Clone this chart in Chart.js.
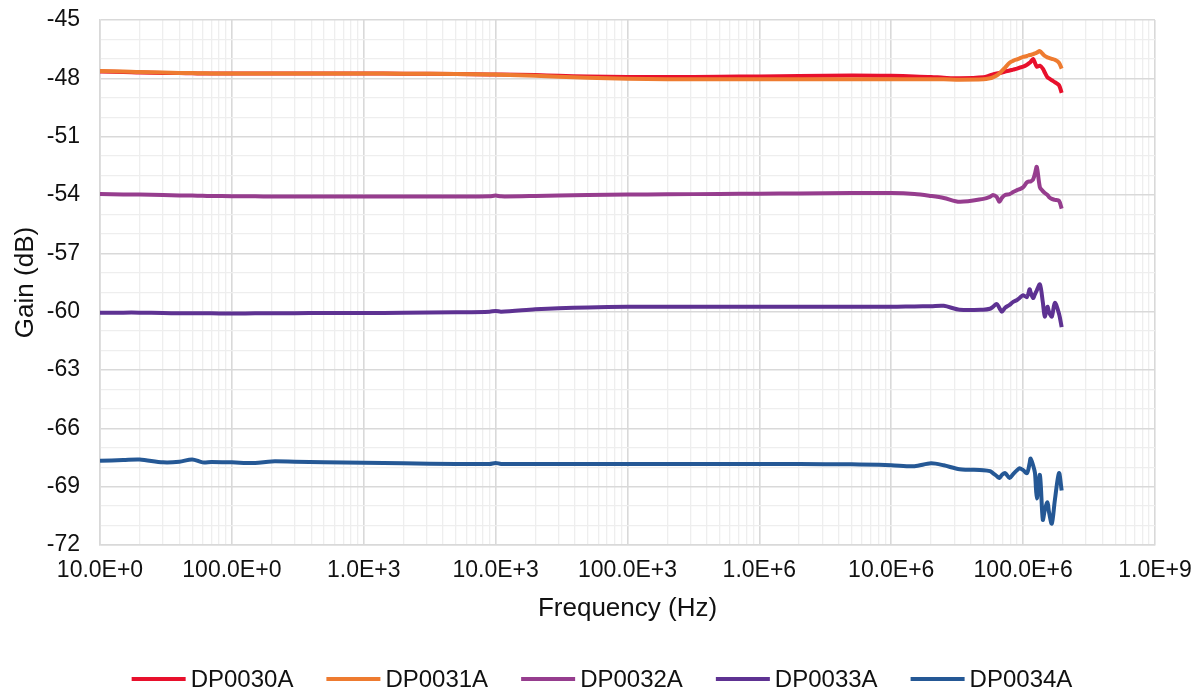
<!DOCTYPE html>
<html>
<head>
<meta charset="utf-8">
<script src="https://cdn.jsdelivr.net/npm/chart.js@4"></script>
<style>
  html, body { margin: 0; padding: 0; background: #ffffff; }
  #wrap { width: 1200px; height: 690px; }
</style>
</head>
<body>
<div id="wrap"><canvas id="c" width="1200" height="690"></canvas></div>
<script>
// ---------------- data ----------------
const freqHz = [
  10, 15, 20, 30, 40, 50, 60, 70, 100, 150,
  200, 300, 500, 1e3, 2e3, 5e3, 9e3, 1e4, 1.1e4, 2e4,
  3e4, 5e4, 1e5, 2e5, 5e5, 1e6, 2e6, 5e6, 1e7, 1.5e7,
  2e7, 2.5e7, 3.3e7, 5e7, 5.6e7, 5.9e7, 6.3e7, 6.6e7, 6.9e7, 7.3e7,
  7.9e7, 8.4e7, 9e7, 9.4e7, 1e8, 1.07e8, 1.12e8, 1.14e8, 1.19e8, 1.23e8,
  1.27e8, 1.34e8, 1.41e8, 1.46e8, 1.53e8, 1.57e8, 1.65e8, 1.74e8, 1.87e8, 1.96e8
];
const gainDP0030A = [
  -47.65,-47.67,-47.70,-47.72,-47.73,-47.74,-47.75,-47.75,-47.75,-47.75,
  -47.75,-47.75,-47.75,-47.75,-47.76,-47.78,-47.80,-47.80,-47.80,-47.83,
  -47.87,-47.90,-47.93,-47.93,-47.92,-47.90,-47.88,-47.85,-47.87,-47.90,
  -47.93,-47.97,-48.00,-47.95,-47.85,-47.80,-47.75,-47.72,-47.70,-47.65,
  -47.60,-47.55,-47.50,-47.45,-47.40,-47.30,-47.20,-47.15,-47.00,-47.20,
  -47.40,-47.35,-47.50,-47.70,-47.95,-48.00,-48.10,-48.20,-48.35,-48.75
];
const gainDP0031A = [
  -47.62,-47.65,-47.68,-47.70,-47.72,-47.73,-47.74,-47.75,-47.75,-47.75,
  -47.75,-47.75,-47.75,-47.75,-47.76,-47.78,-47.80,-47.80,-47.82,-47.87,
  -47.92,-47.97,-48.02,-48.05,-48.05,-48.05,-48.05,-48.05,-48.05,-48.05,
  -48.05,-48.05,-48.07,-48.05,-48.00,-47.95,-47.85,-47.75,-47.62,-47.45,
  -47.20,-47.10,-47.02,-46.97,-46.90,-46.85,-46.80,-46.80,-46.75,-46.72,
  -46.68,-46.60,-46.75,-46.85,-46.92,-46.95,-47.00,-47.05,-47.20,-47.50
];
const gainDP0032A = [
  -53.95,-53.97,-53.98,-54.00,-54.02,-54.03,-54.04,-54.05,-54.06,-54.07,
  -54.08,-54.08,-54.08,-54.08,-54.08,-54.08,-54.07,-54.03,-54.07,-54.05,
  -54.02,-54.00,-53.98,-53.96,-53.95,-53.93,-53.92,-53.90,-53.90,-53.95,
  -54.05,-54.15,-54.35,-54.20,-54.10,-54.00,-54.10,-54.35,-54.15,-54.00,
  -53.95,-53.85,-53.75,-53.70,-53.60,-53.35,-53.30,-53.30,-53.20,-52.90,
  -52.55,-53.60,-53.80,-53.90,-54.00,-54.10,-54.20,-54.25,-54.30,-54.70
];
const gainDP0033A = [
  -60.05,-60.05,-60.05,-60.07,-60.08,-60.08,-60.08,-60.08,-60.10,-60.08,
  -60.08,-60.08,-60.07,-60.07,-60.06,-60.03,-60.00,-59.96,-60.00,-59.88,
  -59.82,-59.78,-59.75,-59.75,-59.75,-59.75,-59.75,-59.75,-59.75,-59.73,
  -59.72,-59.70,-59.90,-59.90,-59.85,-59.75,-59.60,-59.80,-60.00,-59.80,
  -59.65,-59.50,-59.40,-59.30,-59.15,-59.25,-58.85,-59.00,-59.30,-59.10,
  -58.90,-58.60,-59.50,-60.25,-59.75,-60.00,-60.25,-59.55,-60.10,-60.80
];
const gainDP0034A = [
  -67.67,-67.63,-67.60,-67.75,-67.72,-67.60,-67.75,-67.73,-67.75,-67.78,
  -67.70,-67.72,-67.75,-67.77,-67.80,-67.83,-67.83,-67.78,-67.83,-67.83,
  -67.83,-67.83,-67.83,-67.83,-67.83,-67.83,-67.84,-67.85,-67.90,-67.95,
  -67.80,-67.90,-68.10,-68.15,-68.20,-68.30,-68.45,-68.55,-68.40,-68.30,
  -68.55,-68.35,-68.15,-68.05,-68.15,-68.30,-67.80,-67.55,-67.90,-68.30,
  -69.60,-68.40,-70.70,-70.20,-69.80,-70.30,-70.90,-69.70,-68.30,-69.20
];
const seriesNames = ['DP0030A', 'DP0031A', 'DP0032A', 'DP0033A', 'DP0034A'];
const seriesGains = [gainDP0030A, gainDP0031A, gainDP0032A, gainDP0033A, gainDP0034A];

const xTickValues = [1e1, 1e2, 1e3, 1e4, 1e5, 1e6, 1e7, 1e8, 1e9];
const xTickLabels = ['10.0E+0', '100.0E+0', '1.0E+3', '10.0E+3', '100.0E+3', '1.0E+6', '10.0E+6', '100.0E+6', '1.0E+9'];
const yTickValues = [-45, -48, -51, -54, -57, -60, -63, -66, -69, -72];
const yTickLabels = ['-45', '-48', '-51', '-54', '-57', '-60', '-63', '-66', '-69', '-72'];

// ---------------- styles ----------------
const seriesColors = ['#e8102c', '#ee7b30', '#963d8e', '#5e3292', '#255895'];
const FONT = "'Liberation Sans', Arial, sans-serif";
const TEXT_COLOR = '#111111';
const MAJOR_GRID = '#d9d9d9';
const MINOR_GRID = '#eeeeee';

function majorIndexX(v) {
  return xTickValues.findIndex(t => Math.abs(v - t) / t < 1e-6);
}
function majorIndexY(v) {
  return yTickValues.findIndex(t => Math.abs(v - t) < 1e-6);
}

const datasets = seriesNames.map((name, s) => ({
  label: name,
  data: freqHz.map((f, i) => ({ x: f, y: seriesGains[s][i] })),
  borderColor: seriesColors[s],
  backgroundColor: seriesColors[s],
  borderWidth: 4,
  pointRadius: 0,
  tension: 0.3,
  fill: false,
  order: s === 1 ? 0 : 1
}));

// Legend drawn in a single centered row below the axis title (Excel style)
const rowLegend = {
  id: 'rowLegend',
  afterDraw(chart) {
    const ctx = chart.ctx;
    const sample = 54, gap = 5, spacing = 33;
    ctx.save();
    ctx.font = "24px " + FONT;
    const widths = chart.data.datasets.map(d => ctx.measureText(d.label).width);
    const total = widths.reduce((a, w) => a + sample + gap + w, 0) + spacing * (widths.length - 1);
    let x = chart.width / 2 - total / 2 + 2;
    const y = 679;
    chart.data.datasets.forEach((d, i) => {
      ctx.strokeStyle = d.borderColor;
      ctx.lineWidth = 4;
      ctx.lineCap = 'butt';
      ctx.beginPath();
      ctx.moveTo(x, y);
      ctx.lineTo(x + sample, y);
      ctx.stroke();
      ctx.fillStyle = TEXT_COLOR;
      ctx.textBaseline = 'middle';
      ctx.textAlign = 'left';
      ctx.fillText(d.label, x + sample + gap, y + 1);
      x += sample + gap + widths[i] + spacing;
    });
    ctx.restore();
  }
};

new Chart(document.getElementById('c'), {
  type: 'line',
  data: { datasets },
  plugins: [rowLegend],
  options: {
    responsive: false,
    animation: false,
    devicePixelRatio: 1,
    layout: { padding: { top: 20, right: 45, left: 0, bottom: 60 } },
    plugins: {
      tooltip: { enabled: false },
      legend: { display: false }
    },
    scales: {
      x: {
        type: 'logarithmic',
        min: 10,
        max: 1e9,
        afterBuildTicks: (scale) => {
          const t = [];
          for (let e = 1; e <= 9; e++) {
            const base = Math.pow(10, e);
            t.push({ value: base });
            if (e < 9) for (let k = 2; k <= 9; k++) t.push({ value: k * base });
          }
          scale.ticks = t;
        },
        afterFit: (scale) => {
          scale.height = 85;
          scale.paddingLeft = 0;
          scale.paddingRight = 0;
        },
        ticks: {
          autoSkip: false,
          maxRotation: 0,
          minRotation: 0,
          padding: 12,
          color: TEXT_COLOR,
          font: { family: FONT, size: 23 },
          callback: (v) => { const i = majorIndexX(v); return i >= 0 ? xTickLabels[i] : ''; }
        },
        grid: {
          drawTicks: false,
          color: (ctx) => (ctx.tick && majorIndexX(ctx.tick.value) >= 0) ? MAJOR_GRID : MINOR_GRID,
          lineWidth: (ctx) => (ctx.tick && majorIndexX(ctx.tick.value) >= 0) ? 1.6 : 1.3
        },
        border: { display: true, color: MAJOR_GRID, width: 1.6 },
        title: {
          display: true,
          text: 'Frequency (Hz)',
          color: TEXT_COLOR,
          font: { family: FONT, size: 26 },
          padding: { top: 8, bottom: 6 }
        }
      },
      y: {
        type: 'linear',
        min: -72,
        max: -45,
        afterFit: (scale) => {
          scale.width = 100;
          scale.paddingTop = 0;
          scale.paddingBottom = 0;
        },
        ticks: {
          stepSize: 1,
          autoSkip: false,
          padding: 20,
          color: TEXT_COLOR,
          font: { family: FONT, size: 23 },
          callback: (v) => { const i = majorIndexY(v); return i >= 0 ? yTickLabels[i] : ''; }
        },
        grid: {
          drawTicks: false,
          color: (ctx) => (ctx.tick && majorIndexY(ctx.tick.value) >= 0) ? MAJOR_GRID : MINOR_GRID,
          lineWidth: (ctx) => (ctx.tick && majorIndexY(ctx.tick.value) >= 0) ? 1.6 : 1.3
        },
        border: { display: true, color: MAJOR_GRID, width: 1.6 },
        title: {
          display: true,
          text: 'Gain (dB)',
          color: TEXT_COLOR,
          font: { family: FONT, size: 26 },
          padding: { top: 10, bottom: 0 }
        }
      }
    }
  }
});
</script>
</body>
</html>
